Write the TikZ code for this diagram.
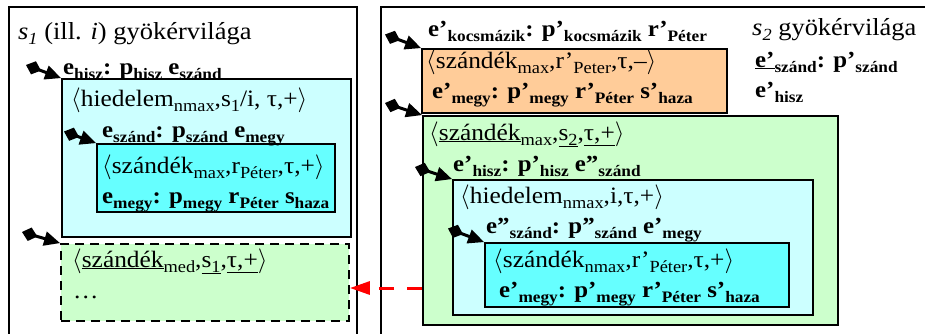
\documentclass[tikz,border=0pt]{standalone}
\usepackage{fontspec}
\setmainfont[FakeStretch=1.08]{Liberation Serif}
\usetikzlibrary{arrows.meta,fit}
\definecolor{lcyan}{HTML}{CCFFFF}
\definecolor{dcyan}{HTML}{66FFFF}
\definecolor{lgreen}{HTML}{CCFFCC}
\definecolor{orng}{HTML}{FFCC99}
\newcommand\sbn[1]{\raisebox{-0.22em}{\fontsize{17}{17}\selectfont #1}}
\newcommand\sbb[1]{\raisebox{-0.25em}{\fontsize{16}{16}\selectfont\bfseries #1}}
\newcommand\sbi[1]{\raisebox{-0.22em}{\fontsize{17}{17}\selectfont\itshape #1}}
\newcommand\la{$\langle$}
\newcommand\ra{$\rangle$}
\begin{document}
\begin{tikzpicture}[x=1pt,y=-1pt,
  txt/.style={anchor=base west, inner sep=0pt, font=\fontsize{23.5}{26}\selectfont},
  ttl/.style={anchor=base west, inner sep=0pt, font=\fontsize{24.5}{27}\selectfont},
  bt/.style={anchor=base west, inner sep=0pt, font=\fontsize{23}{26}\selectfont\bfseries},
  box/.style={draw, line width=1.8pt, inner sep=0pt},
  outer/.style={draw, line width=1.8pt, inner sep=0pt},
  link/.style={line width=3pt, {Diamond[length=16pt,width=14pt]}-{Triangle[length=16pt,width=14pt]}},
  redarrow/.style={draw=red, line width=3pt, dash pattern=on 15pt off 13pt, -{Triangle[length=20pt,width=13pt]}, color=red}]
\useasboundingbox (0,0) rectangle (925,333);
\clip (0,0) rectangle (925,333);
% outer boxes
\node (L) [outer, fit={(9,7) (357,350)}] {};
\node (R) [outer, fit={(381,7) (950,350)}] {};
% left boxes
\node (Lc) [box, fill=lcyan, fit={(62,79) (351,237)}] {};
\node (Lc2) [box, fill=dcyan, fit={(97,144) (335,212)}] {};
\node (Ld) [box, fill=lgreen, dashed, dash pattern=on 9pt off 6pt, fit={(61,244) (349,321)}] {};
% right boxes
\node (Ro) [box, fill=orng, fit={(422,49) (727,113)}] {};
\node (Rg) [box, fill=lgreen, fit={(423,116) (838,325)}] {};
\node (Rc) [box, fill=lcyan, fit={(453,180) (813,315)}] {};
\node (Rc2) [box, fill=dcyan, fit={(485,243) (789,307)}] {};
% left texts
\node (t1) [ttl] at (18,39) {\textit{s}\sbi{1} (ill. \textit{i}) gyökérvilága};
\node (t2) [bt] at (63,74) {e\sbb{hisz}: p\sbb{hisz} e\sbb{szánd}};
\node (t3) [txt] at (71,106) {\la hiedelem\sbn{nmax},s\sbn{1}/i, τ,+\ra};
\node (t4) [bt] at (102,137) {e\sbb{szánd}: p\sbb{szánd} e\sbb{megy}};
\node (t5) [txt] at (102,173) {\la szándék\sbn{max},r\sbn{Péter},τ,+\ra};
\node (t6) [bt] at (102,203) {e\sbb{megy}: p\sbb{megy} r\sbb{Péter} s\sbb{haza}};
\node (t7) [txt] at (72,267) {\la\underline{szándék}\sbn{med},\underline{s\sbn{1}},\underline{τ,+}\ra};
\node (t8) [txt] at (73,298) {…};
% right texts
\node (u1) [bt] at (428,36) {e’\sbb{kocsmázik}: p’\sbb{kocsmázik} r’\sbb{Péter}};
\node (u2) [txt] at (426,68) {\la szándék\sbn{max},r’\sbn{Peter},τ,–\ra};
\node (u3) [bt] at (432,98) {e’\sbb{megy}: p’\sbb{megy} r’\sbb{Péter} s’\sbb{haza}};
\node (u4) [ttl] at (752,35) {\textit{s}\sbi{2} gyökérvilága};
\node (u5) [bt] at (755,67) {\underline{e’}\sbb{szánd}: p’\sbb{szánd}};
\node (u6) [bt] at (755,97) {e’\sbb{hisz}};
\node (u7) [txt] at (429,140) {\la\underline{szándék}\sbn{max},\underline{s\sbn{2}},\underline{τ,+}\ra};
\node (u8) [bt] at (453,171) {e’\sbb{hisz}: p’\sbb{hisz} e”\sbb{szánd}};
\node (u9) [txt] at (460,203) {\la hiedelem\sbn{nmax},i,τ,+\ra};
\node (u10) [bt] at (486,233) {e”\sbb{szánd}: p”\sbb{szánd} e’\sbb{megy}};
\node (u11) [txt] at (493,267) {\la szándék\sbn{nmax},r’\sbn{Péter},τ,+\ra};
\node (u12) [bt] at (499,297) {e’\sbb{megy}: p’\sbb{megy} r’\sbb{Péter} s’\sbb{haza}};
% link start points
\coordinate (a1) at (26,65);
\coordinate (a2) at (64,131.5);
\coordinate (a3) at (22,232);
\coordinate (a4) at (385,34.5);
\coordinate (a5) at (385,103);
\coordinate (a6) at (415,167);
\coordinate (a7) at (448,228.5);
\draw[link] (a1) -- (Lc.north west);
\draw[link] (a2) -- (Lc2.north west);
\draw[link] (a3) -- (Ld.north west);
\draw[link] (a4) -- (Ro.north west);
\draw[link] (a5) -- (Rg.north west);
\draw[link] (a6) -- (Rc.north west);
\draw[link] (a7) -- (Rc2.north west);
% red dashed arrow
\draw[redarrow] ([yshift=-5.5pt]Rg.west |- Ld.east) -- ([yshift=-5.5pt]Ld.east);
\end{tikzpicture}
\end{document}
